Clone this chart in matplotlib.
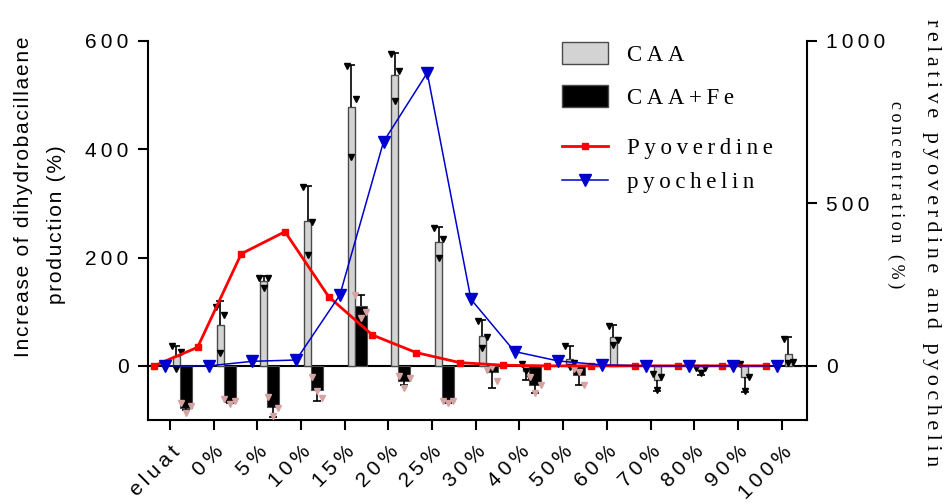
import numpy as np
import matplotlib
matplotlib.use('Agg')
import matplotlib.pyplot as plt
from matplotlib.patches import Patch
from matplotlib.lines import Line2D

SANS = ['Liberation Sans', 'DejaVu Sans']
SERIF = ['Liberation Serif', 'DejaVu Serif']
plt.rcParams['font.family'] = SANS

# data
categories = ['eluat', '0%', '5%', '10%', '15%', '20%', '25%', '30%',
              '40%', '50%', '60%', '70%', '80%', '90%', '100%']
caa = [19, 76, 157, 267, 478, 537, 229, 56, -10, 13, 53, -26, -7, -21, 21]
caa_err = [18, 43, 9, 66, 78, 40, 27, 28, 16, 24, 23, 20, 10, 28, 32]
caa_fe = [-77, -66, -76, -45, 110, -28, -66, -12, -35, -17, 0, 0, 0, 0, 0]
caa_fe_err = [5, 3, 18, 19, 20, 8, 3, 29, 15, 18, 0, 0, 0, 0, 0]
caa_reps = [[36, 26, -5], [109, 94, 24], [163, 163, 144], [331, 265, 205],
            [554, 493, 386], [576, 545, 490], [254, 234, 199], [82, 54, 33],
            [3, -23, -10], [37, 5, -2], [74, 47, 39], [-15, -20, -44],
            [-4, -4, -13], [4, -20, -46], [49, 8, 5]]
caa_fe_reps = [[-69, -75, -87], [-62, -64, -70], [-58, -78, -92], [-21, -60, -47],
               [130, 100, 88], [-18, -22, -40], [-64, -64, -69], [-8, -28, -2],
               [-20, -35, -50], [-5, -35, -12], [], [], [], [], []]
pyoverdine = [0, 57, 345, 413, 213, 95, 41, 10, 2, 0, 0, 0, 0, 0, 0]
pyochelin = [0, 0, 14, 18, 218, 690, 902, 205, 44, 15, 3, 0, 0, 0, 0]


def spaced(s, sp='\u2009'):
    # the original export uses wide letter spacing
    return sp.join(s)


fig = plt.figure(figsize=(9.47, 5.04), dpi=100)
ax = fig.add_axes([148 / 947, 84 / 504, 659 / 947, 379 / 504])
x = np.arange(len(categories))
gx = x + 0.15
bx = x + 0.366

ax.axhline(0, color='black', lw=1.5, zorder=1.5)
ax.bar(gx, caa, width=0.16, color='#d3d3d3', edgecolor='#4a4a4a', linewidth=1, zorder=2)
ax.bar(bx, caa_fe, width=0.275, color='black', edgecolor='#4a4a4a', linewidth=0.8, zorder=2)

# one-sided error bars
caa_tip = [v + e if v >= 0 else v - e for v, e in zip(caa, caa_err)]
fe_tip = [v + e if v >= 0 else v - e for v, e in zip(caa_fe, caa_fe_err)]
ax.vlines(gx, caa, caa_tip, color='black', lw=1.2, zorder=3)
ax.plot(gx, caa_tip, ls='none', marker='_', ms=6, mew=1.2, color='black', zorder=3)
ax.vlines(bx, caa_fe, fe_tip, color='black', lw=1.2, zorder=3)
ax.plot(bx, fe_tip, ls='none', marker='_', ms=6, mew=1.2, color='black', zorder=3)

# individual replicates
for i in range(len(categories)):
    for off, v in zip([-0.1, 0.1, 0.0], caa_reps[i]):
        ax.plot(gx[i] + off, v, ls='none', marker='v', ms=4.5, color='black', zorder=4)
    for off, v in zip([-0.12, 0.12, 0.0], caa_fe_reps[i]):
        ax.plot(bx[i] + off, v, ls='none', marker='v', ms=4.5, color='#d6a3a3', zorder=4)

ax.set_xlim(-0.5, 14.58)
ax.set_ylim(-100, 600)
ax.set_yticks([0, 200, 400, 600])
ax.set_yticklabels([spaced(str(t)) for t in [0, 200, 400, 600]])
ax.set_xticks(x)
ax.set_xticklabels([spaced(c) for c in categories], rotation=45, ha='right',
                   rotation_mode='anchor', fontsize=15)
ax.tick_params(axis='y', direction='out', length=7, width=1.5, labelsize=15, pad=7)
ax.tick_params(axis='x', direction='out', length=7, width=1.5, pad=9)
for s in ['top', 'right']:
    ax.spines[s].set_visible(False)
for s in ['left', 'bottom']:
    ax.spines[s].set_linewidth(1.5)

ax2 = ax.twinx()
ax2.plot(x - 0.366, pyoverdine, color='red', lw=2, marker='s', ms=4.5)
ax2.plot(x - 0.11, pyochelin, color='#0000cc', lw=1.1, marker='v', ms=8)
ax2.set_ylim(-1000 / 6, 1000)
ax2.set_yticks([0, 500, 1000])
ax2.set_yticklabels([spaced(str(t)) for t in [0, 500, 1000]])
ax2.tick_params(axis='y', direction='out', length=7, width=1.5, labelsize=15, pad=7)
for s in ['top', 'left', 'bottom']:
    ax2.spines[s].set_visible(False)
ax2.spines['right'].set_linewidth(1.5)

# axis titles
fig.text(24 / 947, 1 - 197 / 504, spaced('Increase of dihydrobacillaene', '\u200a'),
         rotation=90, ha='center', va='center', fontsize=15, family=SANS)
fig.text(56 / 947, 1 - 225 / 504, spaced('production (%)', '\u200a'), rotation=90,
         ha='center', va='center', fontsize=15, family=SANS)
fig.text(931 / 947, 1 - 243 / 504, spaced('relative pyoverdine and pyochelin'), rotation=-90,
         ha='center', va='center', fontsize=16, family=SERIF)
fig.text(896 / 947, 1 - 195 / 504, spaced('concentration (%)'), rotation=-90,
         ha='center', va='center', fontsize=13, family=SERIF)

# legends
bar_handles = [Patch(facecolor='#d3d3d3', edgecolor='#4a4a4a', lw=1),
               Patch(facecolor='black', edgecolor='#4a4a4a', lw=1)]
fig.legend(bar_handles, [spaced('CAA'), spaced('CAA+Fe')], loc='upper left',
           bbox_to_anchor=(562 / 947, 1 - 42 / 504), frameon=False,
           prop=dict(family=SERIF, size=16.5), handlelength=2.0, handleheight=1.1,
           handletextpad=0.85, labelspacing=0.85, borderpad=0, borderaxespad=0)
line_handles = [Line2D([], [], color='red', lw=2, marker='s', ms=4.5),
                Line2D([], [], color='#0000cc', lw=1.1, marker='v', ms=8)]
fig.legend(line_handles, [spaced('Pyoverdine'), spaced('pyochelin')], loc='upper left',
           bbox_to_anchor=(562 / 947, 1 - 138 / 504), frameon=False,
           prop=dict(family=SERIF, size=16.5), handlelength=2.0,
           handletextpad=0.85, labelspacing=0.55, borderpad=0, borderaxespad=0)

fig.savefig('out.png', dpi=100)
